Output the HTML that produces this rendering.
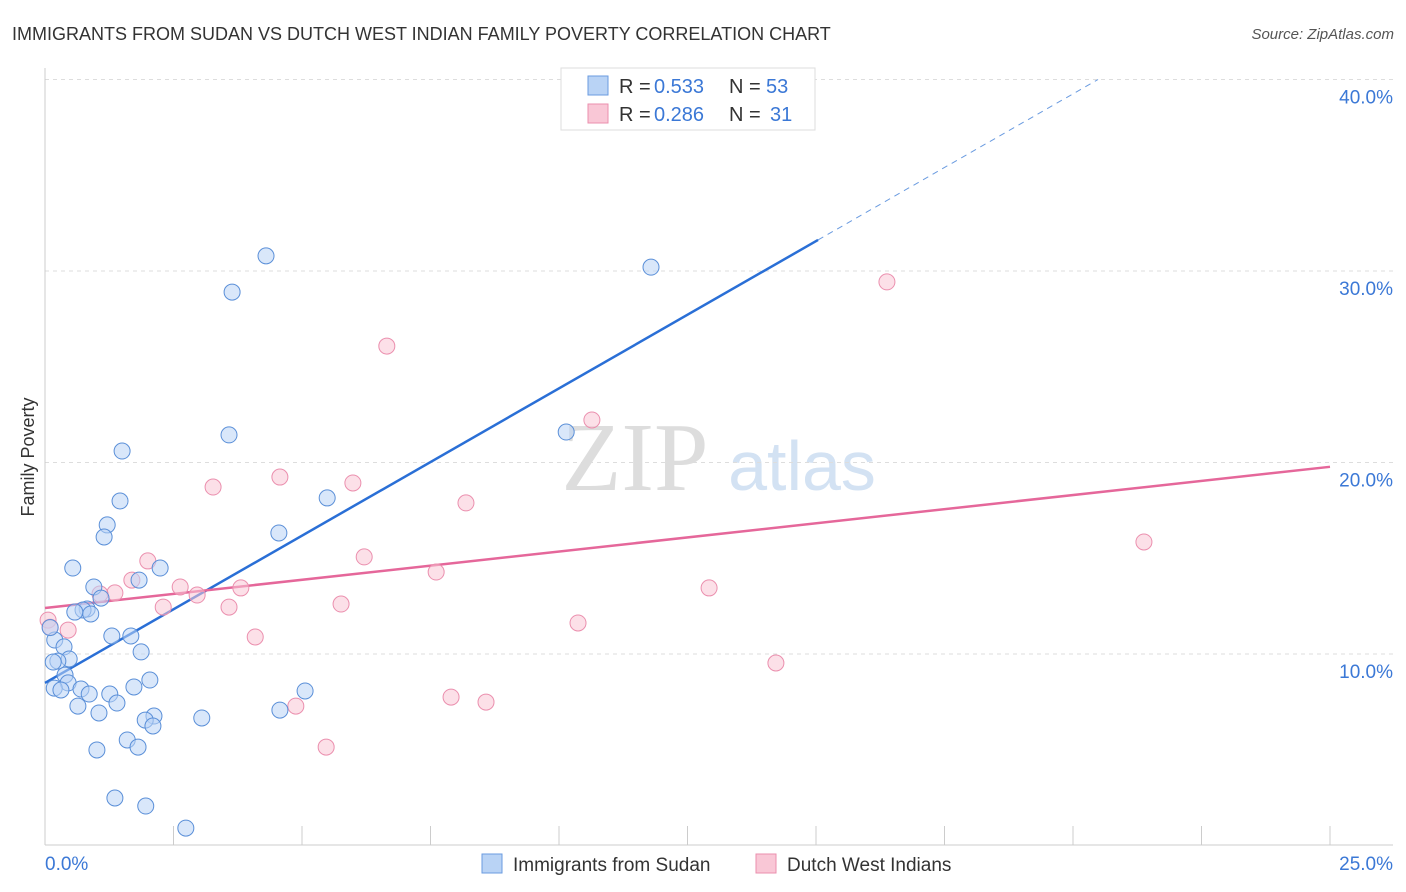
<!DOCTYPE html>
<html><head><meta charset="utf-8"><style>
body{margin:0;background:#fff;font-family:"Liberation Sans",sans-serif}
svg{display:block}
</style></head><body>
<svg id="c" width="1406" height="892">
<text x="12" y="40" font-size="18" fill="#333">IMMIGRANTS FROM SUDAN VS DUTCH WEST INDIAN FAMILY POVERTY CORRELATION CHART</text>
<text x="1394" y="39" font-size="15" fill="#555" font-style="italic" text-anchor="end">Source: ZipAtlas.com</text>
<text x="34" y="457" font-size="18" fill="#333" text-anchor="middle" transform="rotate(-90 34 457)">Family Poverty</text>
<g><text x="635" y="490" font-size="98" fill="#ddd" font-family="Liberation Serif,serif" text-anchor="middle">ZIP</text><text x="802" y="490" font-size="70" fill="#d3e2f3" text-anchor="middle">atlas</text></g>
<g id="grid"></g><g id="axes"></g><g id="lines"></g><g id="pts"></g>
<g>
<rect x="561" y="68" width="254" height="62" fill="#fff" stroke="#ddd"/>
<rect x="588" y="76" width="20" height="19" fill="#b9d3f5" stroke="#6a9be0"/>
<rect x="588" y="104" width="20" height="19" fill="#f9c7d6" stroke="#eb8fae"/>
<text x="619" y="93" font-size="20" fill="#333">R =</text>
<text x="654" y="93" font-size="20" fill="#3b78d6">0.533</text>
<text x="729" y="93" font-size="20" fill="#333">N =</text>
<text x="766" y="93" font-size="20" fill="#3b78d6">53</text>
<text x="619" y="121" font-size="20" fill="#333">R =</text>
<text x="654" y="121" font-size="20" fill="#3b78d6">0.286</text>
<text x="729" y="121" font-size="20" fill="#333">N =</text>
<text x="770" y="121" font-size="20" fill="#3b78d6">31</text>
</g>
<g>
<rect x="482" y="854" width="20" height="19" fill="#b9d3f5" stroke="#6a9be0"/>
<text x="513" y="871" font-size="19" fill="#333">Immigrants from Sudan</text>
<rect x="756" y="854" width="20" height="19" fill="#f9c7d6" stroke="#eb8fae"/>
<text x="787" y="871" font-size="19" fill="#333">Dutch West Indians</text>
</g>
</svg>
<script>
const yTicks=[10,20,30,40];
const xLabels=["0.0%","25.0%"];
const blueX=[4.30,3.64,11.79,3.58,10.14,1.50,1.46,5.49,1.21,1.15,4.55,0.54,2.24,0.95,1.83,1.09,0.82,0.74,0.89,0.58,1.30,1.67,0.19,0.37,1.87,0.47,0.25,0.16,0.39,2.04,0.45,0.70,1.73,1.26,0.86,0.18,0.31,5.06,1.40,0.64,1.05,2.12,3.05,1.95,4.57,2.10,1.60,1.81,1.01,1.36,1.96,2.74,0.10];
const blueY=[30.79,28.90,30.20,21.44,21.59,20.60,17.99,18.15,16.74,16.11,16.32,14.49,14.49,13.50,13.86,12.92,12.35,12.30,12.09,12.19,10.94,10.94,10.73,10.37,10.11,9.74,9.63,9.58,8.90,8.64,8.49,8.17,8.28,7.91,7.91,8.22,8.12,8.07,7.44,7.28,6.92,6.76,6.66,6.55,7.07,6.24,5.51,5.14,4.99,2.48,2.06,0.91,11.38];
const pinkX=[16.38,6.65,10.64,4.57,3.27,5.99,8.19,21.38,2.00,6.21,1.69,7.61,2.63,3.81,12.92,1.36,1.07,2.96,2.30,3.58,5.76,10.37,0.45,4.09,14.22,7.90,8.58,4.88,5.47,0.06,0.10];
const pinkY=[29.43,26.08,22.22,19.24,18.72,18.93,17.89,15.85,14.86,15.07,13.86,14.28,13.50,13.45,13.45,13.19,13.13,13.08,12.45,12.45,12.61,11.62,11.25,10.89,9.53,7.75,7.49,7.28,5.14,11.77,11.4];
const blueTrend=[8.49,1.538];
const pinkTrend=[12.40,0.295];
const X=v=>45+v/25*1285, Y=v=>845.5-v*19.15;
const NS="http://www.w3.org/2000/svg";
function mk(p,t,a){const e=document.createElementNS(NS,t);for(const k in a)e.setAttribute(k,a[k]);document.getElementById(p).appendChild(e);return e;}
yTicks.forEach(t=>{
 const l=mk('grid','line',{x1:45,x2:1393,y1:Y(t),y2:Y(t),stroke:'#ddd','stroke-dasharray':'4,4'});
 
 
 const tx=mk('grid','text',{x:1393,y:Y(t)+24,'font-size':19,fill:'#3b78d6','text-anchor':'end'});tx.textContent=t.toFixed(1)+'%';
 
 
});
mk('axes','line',{x1:45,x2:45,y1:68,y2:845,stroke:'#ccc'});
mk('axes','line',{x1:45,x2:1393,y1:845,y2:845,stroke:'#ccc'});
for(let i=0;i<=10;i++){const t=mk('axes','line',{x1:X(i*2.5),x2:X(i*2.5),y1:826,y2:845,stroke:'#ccc'});
 
 }
const xl0=mk('axes','text',{x:45,y:870,'font-size':19,fill:'#3b78d6'});xl0.textContent=xLabels[0];


const xl1=mk('axes','text',{x:1393,y:870,'font-size':19,fill:'#3b78d6','text-anchor':'end'});xl1.textContent=xLabels[1];


function pt(x,y,f,s,n){const c=mk('pts','circle',{cx:X(x),cy:Y(y),r:8,fill:f,'fill-opacity':0.55,stroke:s,'stroke-width':1});
 
 }
pinkX.forEach((x,i)=>pt(x,pinkY[i],'#f9c7d6','#eb8fae','point-dutch'));
blueX.forEach((x,i)=>pt(x,blueY[i],'#b9d3f5','#5a8fd8','point-sudan'));
const bEnd=15.04, bTop=(40-blueTrend[0])/blueTrend[1];
const bl=mk('lines','line',{x1:X(0),y1:Y(blueTrend[0]),x2:X(bEnd),y2:Y(blueTrend[0]+blueTrend[1]*bEnd),stroke:'#2a6fd6','stroke-width':2.5});


const bd=mk('lines','line',{x1:X(bEnd),y1:Y(blueTrend[0]+blueTrend[1]*bEnd),x2:X(bTop),y2:Y(40),stroke:'#6a9be0','stroke-width':1,'stroke-dasharray':'6,5'});


const pl=mk('lines','line',{x1:X(0),y1:Y(pinkTrend[0]),x2:X(25),y2:Y(pinkTrend[0]+pinkTrend[1]*25),stroke:'#e5679a','stroke-width':2.5});


</script>
</body></html>
